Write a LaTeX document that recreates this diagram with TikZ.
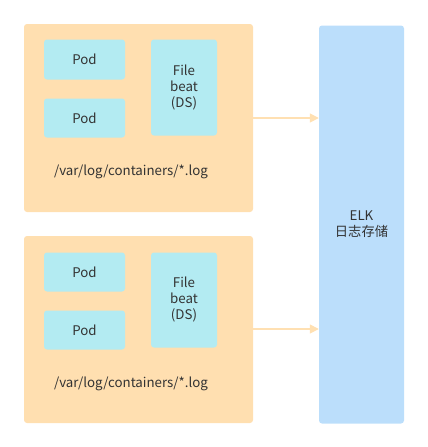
\documentclass[tikz,border=0pt]{standalone}
\usepackage{fontspec}
\setmainfont{Noto Sans CJK SC}
\usetikzlibrary{arrows.meta}
\definecolor{hostfill}{HTML}{FFDFB0}
\definecolor{podfill}{HTML}{B3EBF2}
\definecolor{elkfill}{HTML}{BBDEFB}
\definecolor{arrowc}{HTML}{FFE0B2}
\definecolor{txt}{HTML}{333333}
\tikzset{
  box/.style={rounded corners=3pt, draw=none, font=\fontsize{13.3}{16}\selectfont, text=txt, align=center, inner sep=0pt},
  host/.style={box, fill=hostfill},
  pod/.style={box, fill=podfill},
  elk/.style={box, fill=elkfill},
  flow/.style={draw=arrowc, line width=1.6pt, -{Triangle[length=9pt,width=9pt]}},
  lbl/.style={font=\fontsize{13.3}{16}\selectfont, text=txt, inner sep=0pt}
}
\begin{document}
\begin{tikzpicture}[x=1pt,y=-1pt]
\useasboundingbox (0,0) rectangle (428,447);
% host 1
\node[host, minimum width=229pt, minimum height=188pt] (h1) at (138.5,118) {};
\node[pod, minimum width=81pt, minimum height=40pt] (p1) at (84.5,59.5) {Pod};
\node[pod, minimum width=81pt, minimum height=39pt] (p2) at (84.5,118) {Pod};
\node[pod, minimum width=66pt, minimum height=96pt] (f1) at (184,87.5) {File\\beat\\(DS)};
\node[lbl] (l1) at (131,172) {/var/log/containers/*.log};
% host 2
\node[host, minimum width=229pt, minimum height=187pt] (h2) at (138.5,329.5) {};
\node[pod, minimum width=81pt, minimum height=39pt] (p3) at (84.5,272) {Pod};
\node[pod, minimum width=81pt, minimum height=39pt] (p4) at (84.5,330) {Pod};
\node[pod, minimum width=66pt, minimum height=95pt] (f2) at (184,300) {File\\beat\\(DS)};
\node[lbl] (l2) at (131,384) {/var/log/containers/*.log};
% ELK
\node[elk, minimum width=85pt, minimum height=398pt] (elk) at (361.5,224.5) {ELK\\日志存储};
% arrows
\draw[flow] (h1.east |- 0,118) -- (elk.west |- 0,118);
\draw[flow] (h2.east |- 0,329) -- (elk.west |- 0,329);
\end{tikzpicture}
\end{document}
